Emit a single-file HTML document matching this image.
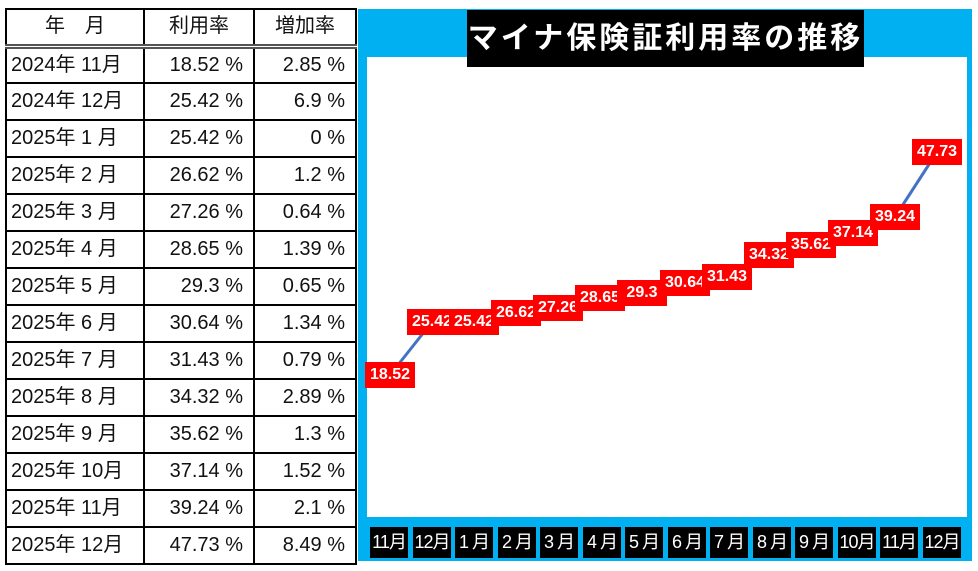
<!DOCTYPE html>
<html><head><meta charset="utf-8"><style>
body{margin:0;width:978px;height:571px;background:#fff;position:relative;overflow:hidden;font-family:"Liberation Sans","Noto Sans CJK JP",sans-serif}
.a{position:absolute}
table{position:absolute;left:5px;top:8px;border-collapse:collapse;table-layout:fixed}
td{border:2px solid #000;height:35px;box-sizing:border-box;font-size:20px;padding:0 10px 0 4px;color:#111;white-space:nowrap;line-height:33px}
tr{height:37px}
td.c1{width:138px}td.c2{width:110px;text-align:right}td.c3{width:102px;text-align:right}
tr.h{height:37px}
tr.h td{text-align:center;border-bottom:5px double #555;padding:0}
.lbl{position:absolute;background:#f00;color:#fff;font-weight:bold;font-size:16px;height:26px;line-height:26px;width:50px;text-align:center;overflow:hidden}
.m{position:absolute;top:527px;width:38px;height:31px;background:#000;color:#fff;font-size:18px;line-height:31px;text-align:center;letter-spacing:-1px;overflow:hidden}
</style></head><body>
<table>
<tr class="h"><td class="c1">年　月</td><td class="c2" style="text-align:center">利用率</td><td class="c3" style="text-align:center">増加率</td></tr>
<tr><td class="c1">2024年 11月</td><td class="c2">18.52 %</td><td class="c3">2.85 %</td></tr>
<tr><td class="c1">2024年 12月</td><td class="c2">25.42 %</td><td class="c3">6.9 %</td></tr>
<tr><td class="c1">2025年 1 月</td><td class="c2">25.42 %</td><td class="c3">0 %</td></tr>
<tr><td class="c1">2025年 2 月</td><td class="c2">26.62 %</td><td class="c3">1.2 %</td></tr>
<tr><td class="c1">2025年 3 月</td><td class="c2">27.26 %</td><td class="c3">0.64 %</td></tr>
<tr><td class="c1">2025年 4 月</td><td class="c2">28.65 %</td><td class="c3">1.39 %</td></tr>
<tr><td class="c1">2025年 5 月</td><td class="c2">29.3 %</td><td class="c3">0.65 %</td></tr>
<tr><td class="c1">2025年 6 月</td><td class="c2">30.64 %</td><td class="c3">1.34 %</td></tr>
<tr><td class="c1">2025年 7 月</td><td class="c2">31.43 %</td><td class="c3">0.79 %</td></tr>
<tr><td class="c1">2025年 8 月</td><td class="c2">34.32 %</td><td class="c3">2.89 %</td></tr>
<tr><td class="c1">2025年 9 月</td><td class="c2">35.62 %</td><td class="c3">1.3 %</td></tr>
<tr><td class="c1">2025年 10月</td><td class="c2">37.14 %</td><td class="c3">1.52 %</td></tr>
<tr><td class="c1">2025年 11月</td><td class="c2">39.24 %</td><td class="c3">2.1 %</td></tr>
<tr><td class="c1">2025年 12月</td><td class="c2">47.73 %</td><td class="c3">8.49 %</td></tr>
</table>
<div class="a" style="left:358px;top:9px;width:614px;height:552px;background:#00b0f0"></div>
<div class="a" style="left:367px;top:57px;width:600px;height:460px;background:#fff"></div>
<div class="a" style="left:467px;top:10px;width:397px;height:57px;background:#000;color:#fff;font-size:30px;font-weight:bold;line-height:57px;text-align:center;letter-spacing:3px">マイナ保険証利用率の推移</div>
<svg class="a" style="left:0;top:0" width="978" height="571"><polyline fill="none" stroke="#4472c4" stroke-width="3" points="390,375 432,322 474,322 516,313 558,308 600,298 642,293 685,283 727,277 769,255 811,245 853,233 895,217 937,152"/></svg>
<div class="lbl" style="left:365px;top:362px">18.52</div>
<div class="lbl" style="left:407px;top:309px">25.42</div>
<div class="lbl" style="left:449px;top:309px">25.42</div>
<div class="lbl" style="left:491px;top:300px">26.62</div>
<div class="lbl" style="left:533px;top:295px">27.26</div>
<div class="lbl" style="left:575px;top:285px">28.65</div>
<div class="lbl" style="left:617px;top:280px">29.3</div>
<div class="lbl" style="left:660px;top:270px">30.64</div>
<div class="lbl" style="left:702px;top:264px">31.43</div>
<div class="lbl" style="left:744px;top:242px">34.32</div>
<div class="lbl" style="left:786px;top:232px">35.62</div>
<div class="lbl" style="left:828px;top:220px">37.14</div>
<div class="lbl" style="left:870px;top:204px">39.24</div>
<div class="lbl" style="left:912px;top:139px">47.73</div>
<div class="m" style="left:370px">11月</div>
<div class="m" style="left:413px">12月</div>
<div class="m" style="left:455px">1 月</div>
<div class="m" style="left:498px">2 月</div>
<div class="m" style="left:540px">3 月</div>
<div class="m" style="left:583px">4 月</div>
<div class="m" style="left:625px">5 月</div>
<div class="m" style="left:668px">6 月</div>
<div class="m" style="left:710px">7 月</div>
<div class="m" style="left:753px">8 月</div>
<div class="m" style="left:795px">9 月</div>
<div class="m" style="left:838px">10月</div>
<div class="m" style="left:880px">11月</div>
<div class="m" style="left:923px">12月</div>
</body></html>
